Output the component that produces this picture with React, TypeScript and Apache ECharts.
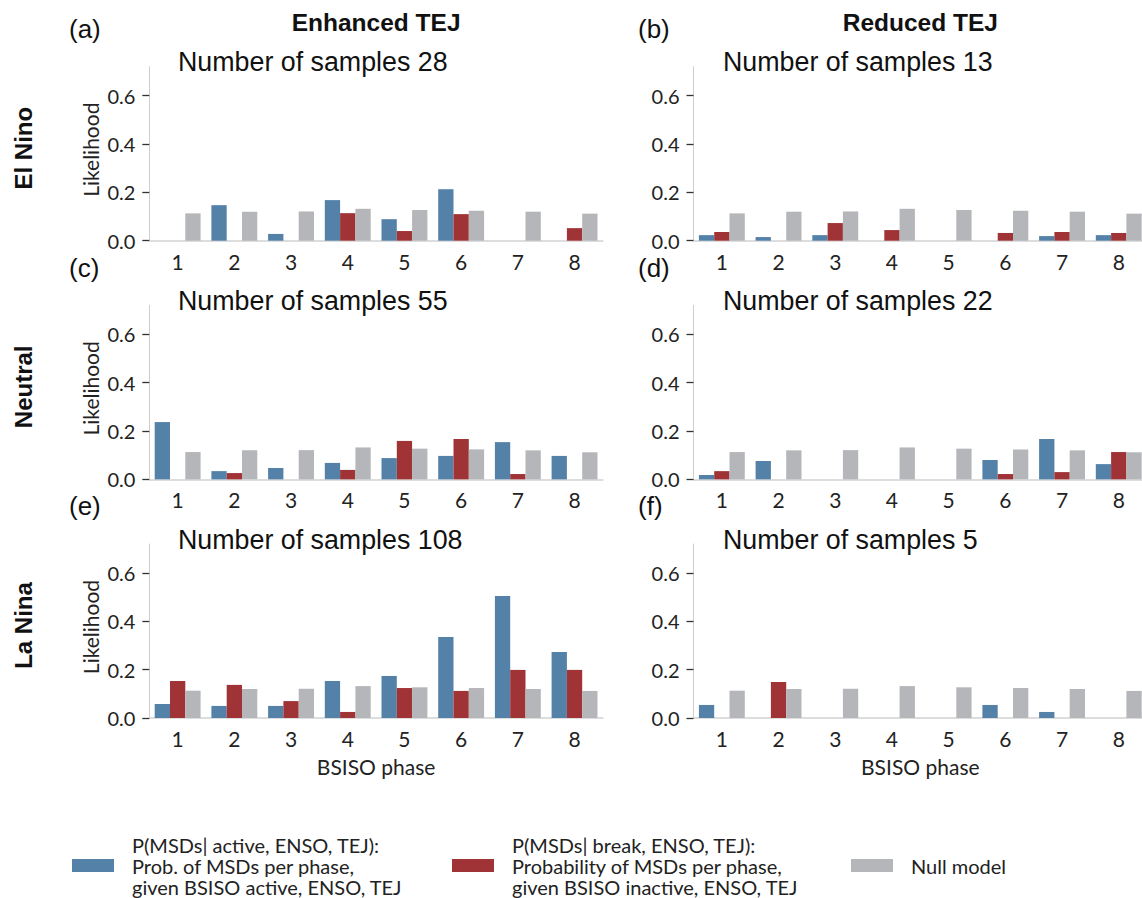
import React, { useEffect, useRef } from 'react';
import * as echarts from 'echarts';

// BSISO phases on the x axis
const phases = ['1', '2', '3', '4', '5', '6', '7', '8'];
const yTicks = [0, 0.2, 0.4, 0.6];

// El Nino
const activeElNinoEnhanced = [0, 0.147, 0.028, 0.168, 0.089, 0.213, 0, 0];
const breakElNinoEnhanced = [0, 0, 0, 0.114, 0.04, 0.11, 0, 0.052];
const activeElNinoReduced = [0.023, 0.015, 0.023, 0, 0, 0, 0.019, 0.023];
const breakElNinoReduced = [0.036, 0, 0.073, 0.044, 0, 0.032, 0.036, 0.032];

// Neutral
const activeNeutralEnhanced = [0.237, 0.034, 0.047, 0.068, 0.088, 0.097, 0.154, 0.097];
const breakNeutralEnhanced = [0, 0.026, 0, 0.039, 0.159, 0.167, 0.022, 0];
const activeNeutralReduced = [0.018, 0.076, 0, 0, 0, 0.08, 0.167, 0.063];
const breakNeutralReduced = [0.034, 0, 0, 0, 0, 0.022, 0.03, 0.113];

// La Nina
const activeLaNinaEnhanced = [0.058, 0.05, 0.05, 0.153, 0.174, 0.335, 0.505, 0.273];
const breakLaNinaEnhanced = [0.153, 0.137, 0.07, 0.025, 0.124, 0.112, 0.199, 0.199];
const activeLaNinaReduced = [0.054, 0, 0, 0, 0, 0.054, 0.025, 0];
const breakLaNinaReduced = [0, 0.149, 0, 0, 0, 0, 0, 0];

// Null model (climatological phase frequency)
const nullModel = [0.113, 0.12, 0.121, 0.132, 0.127, 0.124, 0.12, 0.112];

const sampleCounts = [
  [28, 13],
  [55, 22],
  [108, 5],
];
const rowNames = ['El Nino', 'Neutral', 'La Nina'];
const colNames = ['Enhanced TEJ', 'Reduced TEJ'];
const panelLetters = [
  ['(a)', '(b)'],
  ['(c)', '(d)'],
  ['(e)', '(f)'],
];

const activeData = [
  [activeElNinoEnhanced, activeElNinoReduced],
  [activeNeutralEnhanced, activeNeutralReduced],
  [activeLaNinaEnhanced, activeLaNinaReduced],
];
const breakData = [
  [breakElNinoEnhanced, breakElNinoReduced],
  [breakNeutralEnhanced, breakNeutralReduced],
  [breakLaNinaEnhanced, breakLaNinaReduced],
];

const ACTIVE_NAME = 'P(MSDs| active, ENSO, TEJ):\nProb. of MSDs per phase,\ngiven BSISO active, ENSO, TEJ';
const BREAK_NAME = 'P(MSDs| break, ENSO, TEJ):\nProbability of MSDs per phase,\ngiven BSISO inactive, ENSO, TEJ';
const NULL_NAME = 'Null model';

const BLUE = '#5381a8';
const RED = '#a03336';
const GRAY = '#b5b6ba';

const LATO = 'Lato';
const HELV = '"Liberation Sans", Arial, sans-serif';

export default function App() {
  const ref = useRef<HTMLDivElement>(null);

  useEffect(() => {
    document.body.style.margin = '0';
    const chart = echarts.init(ref.current!, null, { renderer: 'svg' });

    const colLeft = [149.3, 693.5];
    const gridWidth = 453.6;
    const gridHeight = 174;
    const rowTop = (r: number) => 66.7 + r * 238.65;

    const grids: any[] = [];
    const xAxes: any[] = [];
    const yAxes: any[] = [];
    const series: any[] = [];
    const graphics: any[] = [];

    for (let r = 0; r < 3; r++) {
      for (let c = 0; c < 2; c++) {
        const idx = grids.length;
        grids.push({ left: colLeft[c], top: rowTop(r), width: gridWidth, height: gridHeight });
        xAxes.push({
          type: 'category',
          gridIndex: idx,
          data: phases,
          axisLine: { lineStyle: { color: '#d2d2d2', width: 1.5 } },
          axisTick: { alignWithLabel: true, length: 8, lineStyle: { color: '#333', width: 1.3 } },
          axisLabel: { fontFamily: LATO, fontSize: 21, color: '#222', margin: 10 },
        });
        yAxes.push({
          type: 'value',
          gridIndex: idx,
          min: 0,
          max: 0.72,
          splitLine: { show: false },
          axisLine: { show: true, lineStyle: { color: '#cfcfcf', width: 1 } },
          axisTick: { show: true, length: 7, customValues: yTicks, lineStyle: { color: '#333', width: 1.3 } },
          axisLabel: {
            customValues: yTicks,
            formatter: (v: number) => v.toFixed(1),
            fontFamily: LATO,
            fontSize: 20,
            color: '#222',
            margin: 14,
          },
        });
        const common = { type: 'bar', xAxisIndex: idx, yAxisIndex: idx, barWidth: 15.3, barGap: '0%' };
        series.push({ ...common, name: ACTIVE_NAME, data: activeData[r][c], itemStyle: { color: BLUE } });
        series.push({ ...common, name: BREAK_NAME, data: breakData[r][c], itemStyle: { color: RED } });
        series.push({ ...common, name: NULL_NAME, data: nullModel, itemStyle: { color: GRAY } });

        const top = rowTop(r);
        graphics.push({
          type: 'text',
          x: c === 0 ? 69 : 638,
          y: top - 37.7,
          style: { text: panelLetters[r][c], font: `26px ${HELV}`, fill: '#111', align: 'left', verticalAlign: 'middle' },
        });
        graphics.push({
          type: 'text',
          x: c === 0 ? 178 : 723,
          y: top - 4.5,
          style: {
            text: `Number of samples ${sampleCounts[r][c]}`,
            font: `26.8px ${HELV}`,
            fill: '#111',
            align: 'left',
            verticalAlign: 'middle',
          },
        });
      }
      const top = rowTop(r);
      graphics.push({
        type: 'text',
        x: 23,
        y: top + 81.5,
        rotation: Math.PI / 2,
        style: { text: rowNames[r], font: `bold 24px ${HELV}`, fill: '#111', align: 'center', verticalAlign: 'middle' },
      });
      graphics.push({
        type: 'text',
        x: 90,
        y: top + 83,
        rotation: Math.PI / 2,
        style: { text: 'Likelihood', font: `21px ${LATO}`, fill: '#222', align: 'center', verticalAlign: 'middle' },
      });
    }

    for (let c = 0; c < 2; c++) {
      const center = colLeft[c] + gridWidth / 2;
      graphics.push({
        type: 'text',
        x: center,
        y: 22,
        style: { text: colNames[c], font: `bold 24.5px ${HELV}`, fill: '#111', align: 'center', verticalAlign: 'middle' },
      });
      graphics.push({
        type: 'text',
        x: center,
        y: 766,
        style: { text: 'BSISO phase', font: `21px ${LATO}`, fill: '#222', align: 'center', verticalAlign: 'middle' },
      });
    }

    const legendText = {
      fontFamily: LATO,
      fontSize: 20,
      lineHeight: 21,
      color: '#222',
      padding: [0, 0, 0, 13],
    };
    const legendBase = {
      orient: 'horizontal',
      padding: 0,
      itemWidth: 42,
      itemHeight: 13,
      icon: 'rect',
      selectedMode: false,
      textStyle: legendText,
    };

    chart.setOption({
      animation: false,
      textStyle: { fontFamily: LATO },
      grid: grids,
      xAxis: xAxes,
      yAxis: yAxes,
      series,
      legend: [
        { ...legendBase, left: 72, top: 834, data: [ACTIVE_NAME] },
        { ...legendBase, left: 452, top: 834, data: [BREAK_NAME] },
        { ...legendBase, left: 851, top: 855, data: [NULL_NAME] },
      ],
      graphic: graphics,
    });

    return () => chart.dispose();
  }, []);

  return (
    <div style={{ width: 1142, height: 898, overflow: 'hidden', position: 'relative' }}>
      <div ref={ref} style={{ width: 1160, height: 898 }} />
    </div>
  );
}
